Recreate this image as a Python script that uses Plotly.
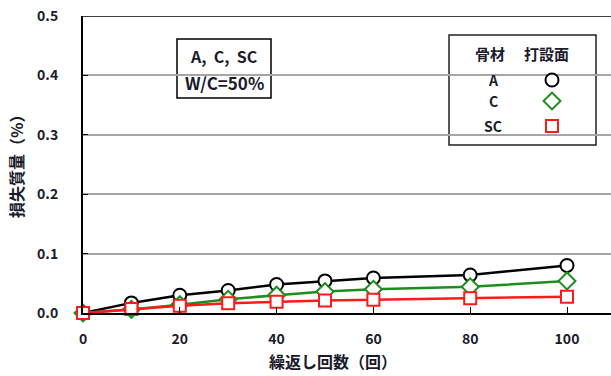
import plotly.graph_objects as go

cycles = [0, 10, 20, 30, 40, 50, 60, 80, 100]
loss_A = [0.0, 0.017, 0.030, 0.038, 0.048, 0.054, 0.059, 0.064, 0.080]
loss_C = [0.0, 0.006, 0.014, 0.023, 0.030, 0.036, 0.040, 0.044, 0.054]
loss_SC = [0.0, 0.0066, 0.012, 0.0165, 0.019, 0.021, 0.0225, 0.025, 0.0275]
series_names = ["A", "C", "SC"]
colors = ["#000000", "#1e8c1e", "#ff1a1a"]
symbols = ["circle", "diamond", "square"]
sizes = [13, 13, 12]
x_ticks = [0, 20, 40, 60, 80, 100]
y_ticks = [0.0, 0.1, 0.2, 0.3, 0.4, 0.5]

W, H = 611, 376
L, R, T, B = 83, 0, 16, 63
PW, PH = W - L - R, H - T - B


def fx(px):
    return (px - L) / PW


def fy(py):
    return (H - B - py) / PH


FONT = "Noto Sans CJK JP"
TXT = "#1a1a2a"

fig = go.Figure()
for name, ys, c, s, sz in zip(series_names, [loss_A, loss_C, loss_SC], colors, symbols, sizes):
    fig.add_trace(go.Scatter(
        x=cycles, y=ys, mode="lines+markers", name=name,
        line=dict(color=c, width=2.5),
        marker=dict(symbol=s, size=sz, color="white", line=dict(width=2, color=c)),
        showlegend=False, cliponaxis=False))

# custom legend symbols on overlay axes
leg_rows = [80, 101, 126]
leg_x = fx(552)
for i, (c, s, sz) in enumerate(zip(colors, symbols, sizes)):
    fig.add_trace(go.Scatter(
        x=[leg_x], y=[fy(leg_rows[i])], mode="markers", xaxis="x2", yaxis="y2",
        marker=dict(symbol=s, size=sz, color="white", line=dict(width=2, color=c)),
        showlegend=False, hoverinfo="skip", cliponaxis=False))

shapes = [
    dict(type="line", xref="paper", yref="y", x0=0, x1=1, y0=0.5, y1=0.5,
         line=dict(color="#000000", width=1.5)),
    dict(type="rect", xref="paper", yref="paper", x0=fx(449), x1=fx(596), y0=fy(145), y1=fy(35),
         line=dict(color="#222222", width=1.5), fillcolor="white", layer="between"),
    dict(type="rect", xref="paper", yref="paper", x0=fx(177), x1=fx(271), y0=fy(98), y1=fy(39),
         line=dict(color="#000000", width=1.5), fillcolor="white", layer="between"),
]


def ann(px, py, text, size, **kw):
    d = dict(xref="paper", yref="paper", x=fx(px), y=fy(py), text=text, showarrow=False,
             xanchor="center", yanchor="middle",
             font=dict(family=FONT, size=size, color=TXT))
    d.update(kw)
    return d


annotations = [
    ann(224, 56, "<b>A,  C,  SC</b>", 16),
    ann(224, 83, "<b>W/C=50%</b>", 17),
    ann(490, 54, "<b>骨材</b>", 15),
    ann(546, 54, "<b>打設面</b>", 15),
]
for lbl, yy in zip(series_names, leg_rows):
    annotations.append(ann(493, yy, "<b>%s</b>" % lbl, 14))
annotations.append(ann(333, 361, "<b>繰返し回数（回）</b>", 16))
annotations.append(ann(16, 163, "<b>損失質量（%）</b>", 16, textangle=-90))

fig.update_layout(
    width=W, height=H, margin=dict(l=L, r=R, t=T, b=B),
    paper_bgcolor="white", plot_bgcolor="white",
    font=dict(family=FONT, color=TXT),
    xaxis=dict(range=[0, (W - L) / 4.84], tickvals=x_ticks, ticktext=["<b>%d</b>" % v for v in x_ticks],
               showgrid=False, zeroline=False, showline=True, linecolor="#000000", linewidth=2,
               ticks="inside", ticklen=6, tickcolor="#000000", tickwidth=1,
               tickfont=dict(family=FONT, size=14, color=TXT), ticklabelstandoff=12),
    yaxis=dict(range=[0, 0.5], tickvals=y_ticks, ticktext=["<b>%.1f</b>" % v for v in y_ticks],
               showgrid=True, gridcolor="#a6a6a6", gridwidth=1.5, zeroline=False,
               showline=True, linecolor="#000000", linewidth=2,
               ticks="inside", ticklen=5, tickcolor="#000000", tickwidth=1,
               tickfont=dict(family=FONT, size=14, color=TXT), ticklabelstandoff=20),
    xaxis2=dict(overlaying="x", range=[0, 1], visible=False),
    yaxis2=dict(overlaying="y", range=[0, 1], visible=False),
    shapes=shapes, annotations=annotations,
)

fig.write_html("out.html", config={"displayModeBar": False},
               post_script="document.body.style.margin='0';")
